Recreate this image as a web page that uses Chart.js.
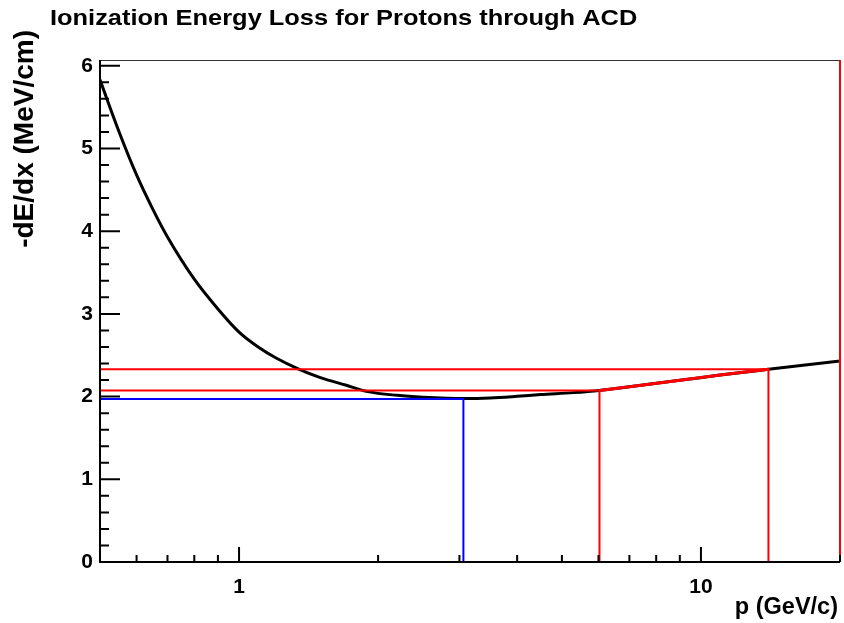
<!DOCTYPE html>
<html>
<head>
<meta charset="utf-8">
<script src="https://cdn.jsdelivr.net/npm/chart.js@4.4.0/dist/chart.umd.min.js"></script>
<style>
  html, body { margin: 0; padding: 0; background: #fff; }
  #wrap { width: 844px; height: 623px; }
</style>
</head>
<body>
<div id="wrap"><canvas id="graph" width="844" height="623"></canvas></div>
<script>
const titleText = 'Ionization Energy Loss for Protons through ACD'
const xTitle = 'p (GeV/c)'
const yTitle = '-dE/dx (MeV/cm)'

// energy loss curve
const momentum = [0.5, 0.55, 0.6, 0.65, 0.7, 0.8, 0.9, 1.0, 1.1, 1.2, 1.35, 1.5, 1.7, 1.9, 2.2, 2.5, 3.06, 3.5, 4.0, 4.5, 5.3, 6.03, 7.0, 9.0, 11.0, 14.0, 17.0, 20.0]
const dEdx = [5.83, 5.2, 4.68, 4.27, 3.93, 3.42, 3.06, 2.78, 2.6, 2.47, 2.33, 2.23, 2.14, 2.06, 2.015, 1.993, 1.976, 1.983, 2.003, 2.024, 2.048, 2.075, 2.12, 2.197, 2.26, 2.33, 2.385, 2.43]

// cut lines (horizontal from the axis, then down to zero)
const cutMomenta = [3.06, 6.03, 14.0]
const cutLosses = [1.97, 2.075, 2.33]
const cutColors = ['#0000ff', '#ff0000', '#ff0000']

// axes
const xMin = 0.5, xMax = 20
const yMin = 0, yMax = 6.07
const xMajorTicks = [1, 10]
const xMinorTicks = [0.6, 0.7, 0.8, 0.9, 2, 3, 4, 5, 6, 7, 8, 9, 20]
const yMajorTicks = [0, 1, 2, 3, 4, 5, 6]
const yMinorTicks = [0.2, 0.4, 0.6, 0.8, 1.2, 1.4, 1.6, 1.8, 2.2, 2.4, 2.6, 2.8, 3.2, 3.4, 3.6, 3.8, 4.2, 4.4, 4.6, 4.8, 5.2, 5.4, 5.6, 5.8]

const FONT = 'Liberation Sans, Arial, Helvetica, sans-serif'

const curvePoints = momentum.map((p, i) => ({ x: p, y: dEdx[i] }))

const datasets = []
cutMomenta.forEach((p, i) => {
    datasets.push({
        data: [{ x: xMin, y: cutLosses[i] }, { x: p, y: cutLosses[i] }, { x: p, y: 0 }],
        borderColor: cutColors[i],
        borderWidth: 2,
        order: 1
    })
})
// red piece of the curve between the two red cuts
datasets.push({
    data: curvePoints.filter(pt => pt.x >= cutMomenta[1] && pt.x <= cutMomenta[2]),
    borderColor: '#ff0000',
    borderWidth: 3,
    order: 0
})
// red line on the right edge
datasets.push({
    data: [{ x: xMax, y: yMin }, { x: xMax, y: yMax }],
    borderColor: '#ff0000',
    borderWidth: 2,
    clip: false,
    order: 0
})
datasets.push({
    data: curvePoints,
    borderColor: '#000000',
    borderWidth: 3,
    cubicInterpolationMode: 'monotone',
    order: 3
})

// ROOT style frame, inward ticks and titles
const rootFrame = {
    id: 'rootFrame',
    afterDraw(chart) {
        const { ctx, chartArea: a, scales: { x, y } } = chart
        ctx.save()
        ctx.strokeStyle = '#333'
        ctx.lineWidth = 1
        ctx.beginPath()
        ctx.moveTo(a.left, a.top + 0.5)
        ctx.lineTo(a.right, a.top + 0.5)
        ctx.stroke()

        ctx.strokeStyle = '#000'
        ctx.lineWidth = 2
        ctx.beginPath()
        xMajorTicks.forEach(v => { const px = x.getPixelForValue(v); ctx.moveTo(px, a.bottom); ctx.lineTo(px, a.bottom - 15) })
        xMinorTicks.forEach(v => { const px = x.getPixelForValue(v); ctx.moveTo(px, a.bottom); ctx.lineTo(px, a.bottom - 7) })
        yMajorTicks.forEach(v => { const py = y.getPixelForValue(v); ctx.moveTo(a.left, py); ctx.lineTo(a.left + 20, py) })
        yMinorTicks.forEach(v => { const py = y.getPixelForValue(v); ctx.moveTo(a.left, py); ctx.lineTo(a.left + 9, py) })
        ctx.stroke()

        ctx.beginPath()
        ctx.moveTo(a.left, a.top)
        ctx.lineTo(a.left, a.bottom)
        ctx.lineTo(a.right, a.bottom)
        ctx.stroke()

        ctx.fillStyle = '#000'
        // main title
        ctx.save()
        ctx.translate(50, 25)
        ctx.scale(1.155, 1)
        ctx.font = 'bold 22px ' + FONT
        ctx.textAlign = 'left'
        ctx.textBaseline = 'alphabetic'
        ctx.fillText(titleText, 0, 0)
        ctx.restore()

        // x title
        ctx.font = 'bold 23.5px ' + FONT
        ctx.textAlign = 'right'
        ctx.textBaseline = 'alphabetic'
        ctx.fillText(xTitle, a.right - 2, 614)

        // y title
        ctx.save()
        ctx.translate(33, 30)
        ctx.rotate(-Math.PI / 2)
        ctx.font = 'bold 28px ' + FONT
        ctx.textAlign = 'right'
        ctx.textBaseline = 'alphabetic'
        ctx.fillText(yTitle, 0, 0)
        ctx.restore()
        ctx.restore()
    }
}

const chart = new Chart(document.querySelector('#graph').getContext('2d'), {
    type: 'line',
    data: { datasets },
    options: {
        responsive: false,
        animation: false,
        events: [],
        layout: { padding: { top: 60, right: 4, left: 0, bottom: 0 } },
        elements: { point: { radius: 0 }, line: { tension: 0 } },
        plugins: { legend: { display: false }, title: { display: false }, tooltip: { enabled: false } },
        scales: {
            x: {
                type: 'logarithmic',
                min: xMin,
                max: xMax,
                afterBuildTicks: s => { s.ticks = [...xMinorTicks, ...xMajorTicks].sort((a, b) => a - b).map(v => ({ value: v })) },
                afterFit: s => { s.height = 61; s.paddingLeft = 0; s.paddingRight = 0 },
                grid: { display: false, drawTicks: false },
                border: { display: false },
                ticks: {
                    autoSkip: false,
                    maxRotation: 0,
                    padding: 13,
                    color: '#000',
                    font: { family: FONT, size: 21, weight: 'bold' },
                    callback: v => xMajorTicks.includes(v) ? String(v) : ''
                }
            },
            y: {
                type: 'linear',
                min: yMin,
                max: yMax,
                afterBuildTicks: s => { s.ticks = yMajorTicks.map(v => ({ value: v })) },
                afterFit: s => { s.width = 100 },
                grid: { display: false, drawTicks: false },
                border: { display: false },
                ticks: {
                    autoSkip: false,
                    padding: 7,
                    color: '#000',
                    font: { family: FONT, size: 21, weight: 'bold' },
                    callback: v => String(v)
                }
            }
        }
    },
    plugins: [rootFrame]
})
</script>
</body>
</html>
